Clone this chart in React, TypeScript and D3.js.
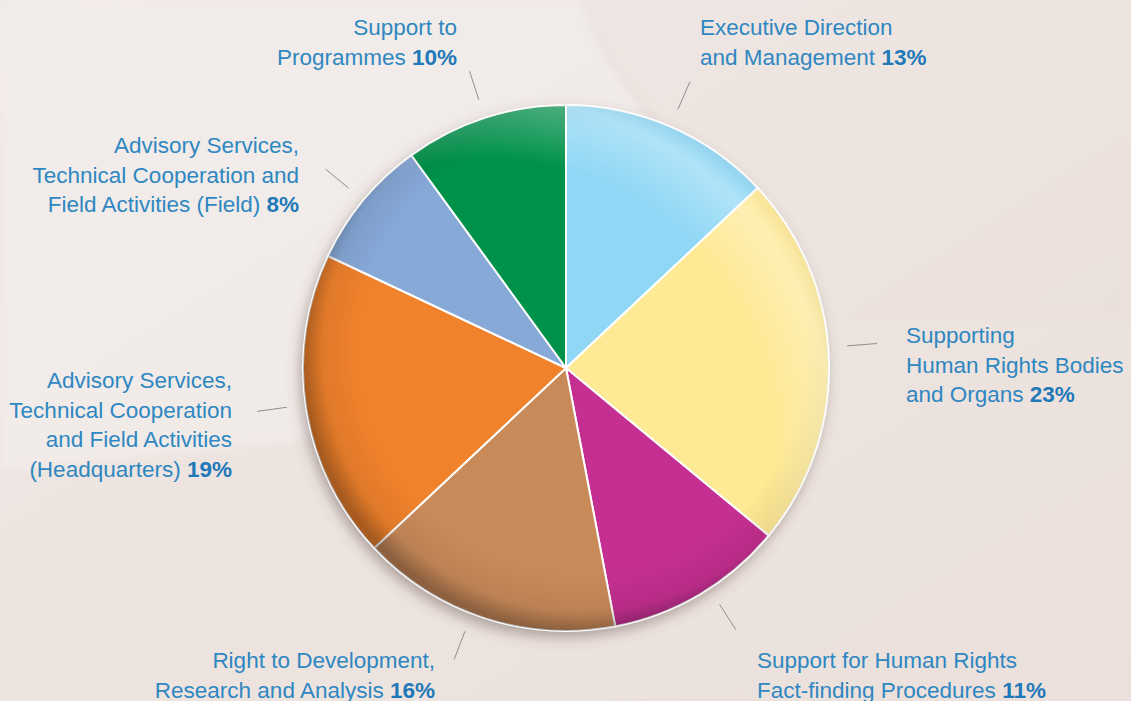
import React from 'react';
import * as d3 from 'd3';

// budget shares, clockwise from 12 o'clock
const categories = [
  'Executive Direction and Management',
  'Supporting Human Rights Bodies and Organs',
  'Support for Human Rights Fact-finding Procedures',
  'Right to Development, Research and Analysis',
  'Advisory Services, Technical Cooperation and Field Activities (Headquarters)',
  'Advisory Services, Technical Cooperation and Field Activities (Field)',
  'Support to Programmes',
];
const shares = [13, 23, 11, 16, 19, 8, 10];
const labelLines = [
  ['Executive Direction', 'and Management'],
  ['Supporting', 'Human Rights Bodies', 'and Organs'],
  ['Support for Human Rights', 'Fact-finding Procedures'],
  ['Right to Development,', 'Research and Analysis'],
  ['Advisory Services,', 'Technical Cooperation', 'and Field Activities', '(Headquarters)'],
  ['Advisory Services,', 'Technical Cooperation and', 'Field Activities (Field)'],
  ['Support to', 'Programmes'],
];
const colors = ['#8fd7f5', '#fee994', '#c42f91', '#c98a5a', '#f0822c', '#87a9d8', '#00914a'];

// where each label block sits (first baseline), alignment, leader angle (deg)
const labelPos: { x: number; y: number; anchor: 'start' | 'end'; leader?: number }[] = [
  { x: 700, y: 35, anchor: 'start' },
  { x: 906, y: 343, anchor: 'start', leader: 85.5 },
  { x: 757, y: 668, anchor: 'start', leader: 147 },
  { x: 435, y: 668, anchor: 'end', leader: 201 },
  { x: 232, y: 388, anchor: 'end', leader: 262 },
  { x: 299, y: 153, anchor: 'end' },
  { x: 457, y: 35, anchor: 'end' },
];

const W = 1131;
const H = 701;
const cx = 566;
const cy = 368;
const R = 263;
const lineH = 29.5;
const textColor = '#2f87c1';
const boldColor = '#1f79b8';

const App: React.FC = () => {
  const pie = d3.pie<number>().sort(null).value(d => d);
  const arcs = pie(shares);
  const arc = d3.arc<d3.PieArcDatum<number>>().innerRadius(0).outerRadius(R);
  const pt = (a: number, r: number) => [Math.sin(a) * r, -Math.cos(a) * r];

  return (
    <svg width={W} height={H} style={{ position: 'absolute', left: 0, top: 0 }}
      fontFamily="'Liberation Sans', Arial, sans-serif">
      <defs>
        <linearGradient id="bg" x1="0" y1="0" x2="1" y2="1">
          <stop offset="0" stopColor="#efe8e5" />
          <stop offset="0.5" stopColor="#ede4e0" />
          <stop offset="1" stopColor="#ebe0db" />
        </linearGradient>
        <radialGradient id="rim" cx="0.53" cy="0.47" r="0.53">
          <stop offset="0.8" stopColor="#000" stopOpacity="0" />
          <stop offset="0.93" stopColor="#000" stopOpacity="0.07" />
          <stop offset="1" stopColor="#000" stopOpacity="0.3" />
        </radialGradient>
        <radialGradient id="hl" cx="0.35" cy="0.65" r="0.7">
          <stop offset="0.78" stopColor="#fff" stopOpacity="0" />
          <stop offset="0.95" stopColor="#fff" stopOpacity="0.3" />
          <stop offset="1" stopColor="#fff" stopOpacity="0.1" />
        </radialGradient>
        <clipPath id="pieClip"><circle r={R} /></clipPath>
        <filter id="shadow" x="-20%" y="-20%" width="140%" height="140%">
          <feDropShadow dx="-3" dy="6" stdDeviation="7" floodColor="#5a4a45" floodOpacity="0.45" />
        </filter>
        <filter id="blur"><feGaussianBlur stdDeviation="4" /></filter>
      </defs>
      <rect width={W} height={H} fill="url(#bg)" />
      {/* soft background shapes */}
      <path d="M0,0 L590,0 C605,40 625,80 660,130 L520,300 L300,440 L0,470 Z" fill="#f4f0ee" opacity={0.6} filter="url(#blur)" />
      <path d="M585,0 C600,45 625,85 665,135" stroke="#ded2ce" strokeWidth={5} fill="none" opacity={0.6} filter="url(#blur)" />
      <path d="M1131,130 L840,320 L1131,320 Z" fill="#e9ddd9" opacity={0.35} filter="url(#blur)" />

      <g transform={`translate(${cx},${cy})`}>
        <circle r={R} fill="#ccc" filter="url(#shadow)" />
        {arcs.map((a, i) => (
          <path key={categories[i]} d={arc(a) ?? ''} fill={colors[i]} stroke="#fff" strokeWidth={2} />
        ))}
        <g clipPath="url(#pieClip)">
          <circle r={R} fill="url(#rim)" />
          <circle r={R} fill="url(#hl)" />
        </g>
        {arcs.map((a, i) => {
          const p = labelPos[i];
          const m = p.leader !== undefined ? (p.leader * Math.PI) / 180 : (a.startAngle + a.endAngle) / 2;
          const [x1, y1] = pt(m, R + 19);
          const [x2, y2] = pt(m, R + 49);
          return <line key={'l' + i} x1={x1} y1={y1} x2={x2} y2={y2} stroke="#8f8f8f" strokeWidth={1} />;
        })}
      </g>

      {labelLines.map((lines, i) => {
        const p = labelPos[i];
        return (
          <text key={'t' + i} x={p.x} y={p.y} textAnchor={p.anchor} fill={textColor} fontSize={22.5}>
            {lines.map((ln, j) => (
              <tspan key={j} x={p.x} y={p.y + j * lineH}>
                {ln}
                {j === lines.length - 1 && (
                  <tspan fontWeight="bold" fill={boldColor}>{' ' + shares[i] + '%'}</tspan>
                )}
              </tspan>
            ))}
          </text>
        );
      })}
    </svg>
  );
};

export default App;
